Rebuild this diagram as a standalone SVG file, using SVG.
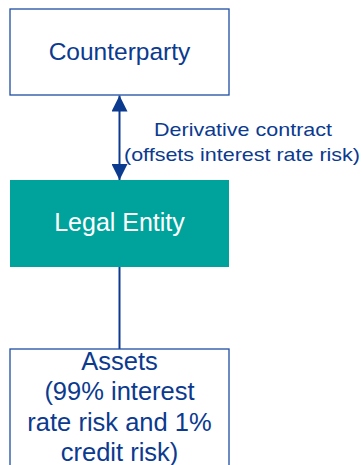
<svg xmlns="http://www.w3.org/2000/svg" width="362" height="465" viewBox="0 0 362 465">
<style>
.box{fill:#ffffff;stroke:#1f4ea3;stroke-width:1.3}
.t{font-family:"Liberation Sans",Arial,sans-serif;fill:#0b3a8f;text-anchor:middle}
.conn{stroke:#0b3a8f;stroke-width:2;fill:none}
</style>
<defs>
<marker id="ah" viewBox="0 0 16 16" refX="16" refY="8" markerWidth="16" markerHeight="16" markerUnits="userSpaceOnUse" orient="auto-start-reverse">
<path d="M0,0 L16,8 L0,16 Z" fill="#0b3a8f"/>
</marker>
</defs>
<rect width="362" height="465" fill="#ffffff"/>
<g id="connectors">
<line class="conn" x1="119.5" y1="95.5" x2="119.5" y2="180" marker-start="url(#ah)" marker-end="url(#ah)"/>
<line class="conn" x1="119.5" y1="267" x2="119.5" y2="349"/>
<text class="t" font-size="19" x="243" y="136" textLength="178" lengthAdjust="spacingAndGlyphs">Derivative contract</text>
<text class="t" font-size="19" x="242" y="161" textLength="236" lengthAdjust="spacingAndGlyphs">(offsets interest rate risk)</text>
</g>
<g id="counterparty">
<rect class="box" x="10" y="9" width="219" height="86"/>
<text class="t" font-size="24.5" x="119.5" y="59.5">Counterparty</text>
</g>
<g id="legal-entity">
<rect x="10" y="180" width="219" height="87" fill="#00a39c"/>
<text class="t" font-size="25" x="119.5" y="231" style="fill:#ffffff">Legal Entity</text>
</g>
<g id="assets">
<rect class="box" x="10" y="349" width="219" height="130"/>
<text class="t" font-size="25.5" x="119.5" y="370">Assets</text>
<text class="t" font-size="25.5" x="119.5" y="400">(99% interest</text>
<text class="t" font-size="25.5" x="119.5" y="431">rate risk and 1%</text>
<text class="t" font-size="25.5" x="119.5" y="461">credit risk)</text>
</g>
</svg>
